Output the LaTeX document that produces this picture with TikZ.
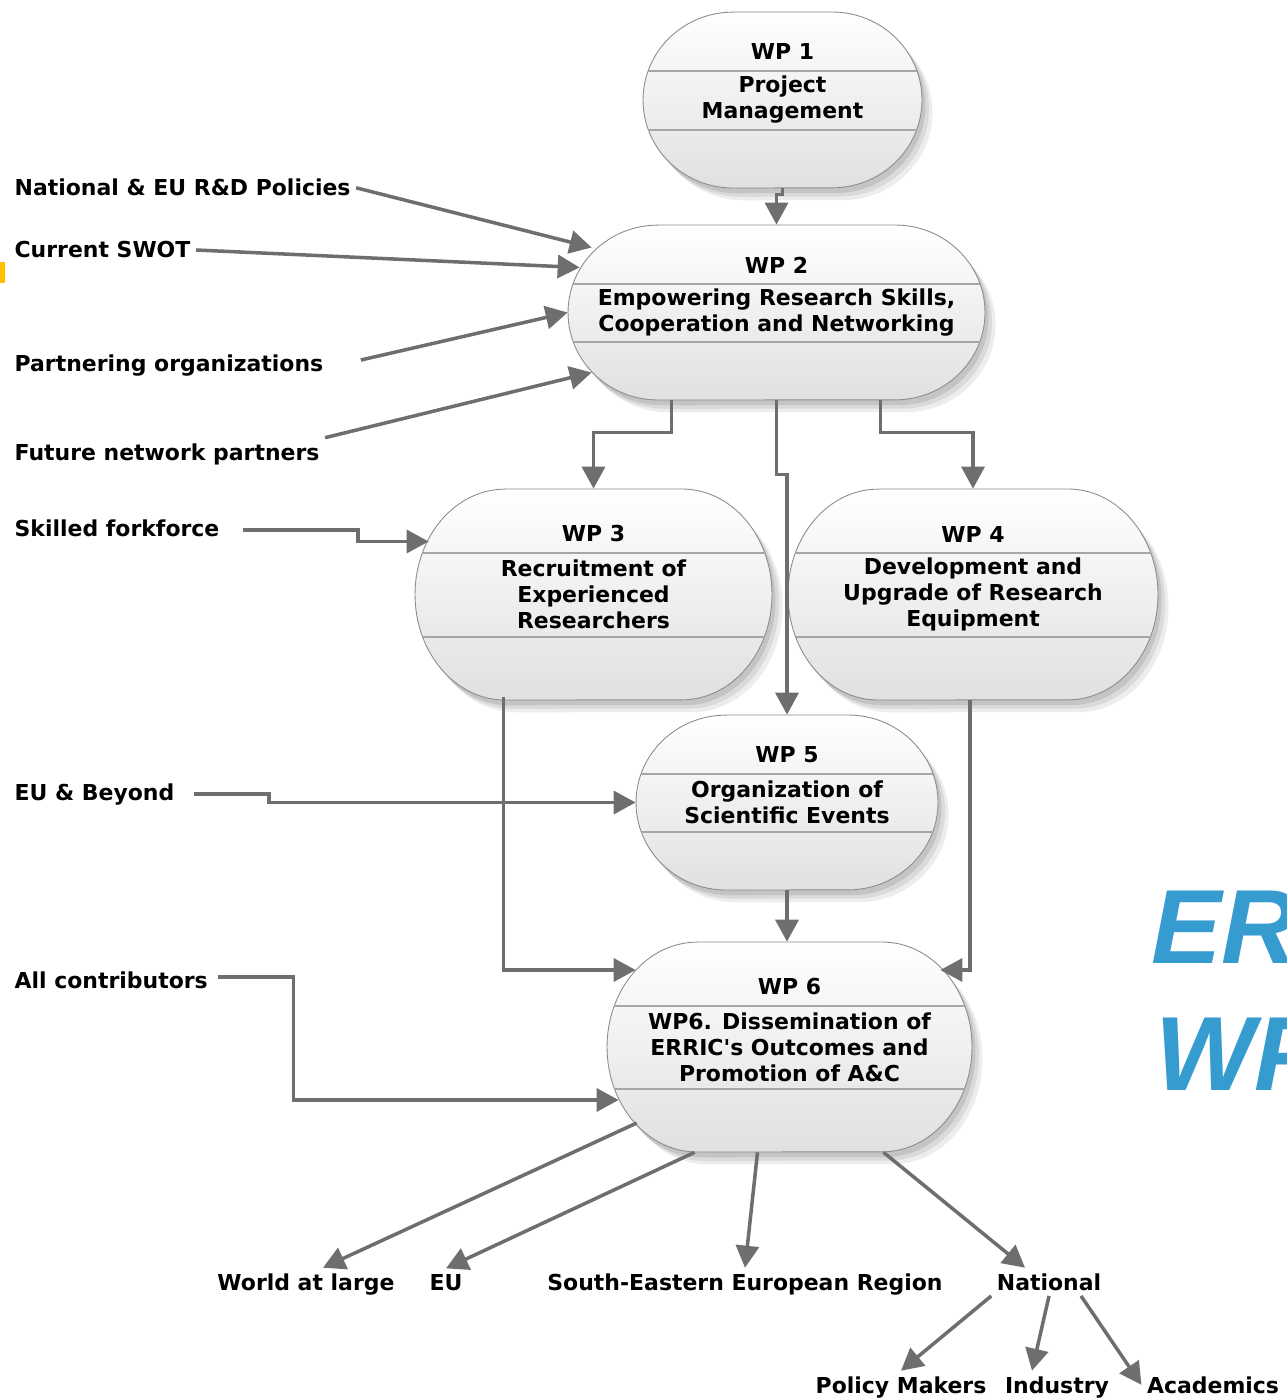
\documentclass[tikz,border=0pt]{standalone}
\usepackage{fontspec}
\setmainfont{DejaVu Sans}
\newfontfamily\errfont{Liberation Sans}
\usetikzlibrary{arrows.meta,calc}

\definecolor{linegray}{RGB}{110,110,110}
\definecolor{errblue}{RGB}{54,155,207}
\definecolor{markyellow}{RGB}{255,192,0}

\newcommand{\wpfont}{\fontsize{12.5}{14.8}\selectfont\bfseries}

% work package block: name, cx, cy, width, height, divider offset, title, text
\newcommand{\wpblock}[8]{%
  \pgfmathsetmacro{\wphx}{#4/2-90+90*sqrt(1-(#6/(#5/2))^2)}%
  \path[wpshape] ({#2-#4/2+90},{#3-#5/2}) -- ({#2+#4/2-90},{#3-#5/2})
    arc[start angle=90, end angle=-90, x radius=1.8cm, y radius=#5*0.01cm]
    -- ({#2-#4/2+90},{#3+#5/2})
    arc[start angle=270, end angle=90, x radius=1.8cm, y radius=#5*0.01cm] -- cycle;
  \node[wpbody, minimum width=#4*0.02cm, minimum height=#5*0.02cm] (#1) at (#2,#3) {#8};
  \node[wptitle] at ($(#1.center)+(0,-#6-19)$) {#7};
  \draw[wpdiv] ($(#1.center)+(-\wphx,-#6)$) -- ($(#1.center)+(\wphx,-#6)$);
  \draw[wpdiv] ($(#1.center)+(-\wphx,#6+1)$) -- ($(#1.center)+(\wphx,#6+1)$);
}

\begin{document}
\begin{tikzpicture}[x=0.02cm, y=-0.02cm,
    wpshape/.style={draw=black!45, line width=0.5pt, top color=white, bottom color=black!12,
      preaction={fill=black, opacity=0.07, transform canvas={xshift=6pt, yshift=-7pt}},
      preaction={fill=black, opacity=0.08, transform canvas={xshift=4pt, yshift=-5pt}},
      preaction={fill=black, opacity=0.10, transform canvas={xshift=2pt, yshift=-3pt}}},
    wpbody/.style={align=center, font=\wpfont, inner sep=0pt},
    wptitle/.style={font=\wpfont, inner sep=0pt},
    wpdiv/.style={draw=black!35, line width=1.2pt},
    lbl/.style={font=\wpfont, inner sep=3pt},
    conn/.style={draw=linegray, line width=2pt, -{Triangle[length=0.44cm, width=0.46cm]}},
    errtxt/.style={font=\errfont\fontsize{60}{60}\selectfont\bfseries\itshape, text=errblue, inner sep=0pt}]
  \useasboundingbox (0,0) rectangle (1286,1398);
  \clip (0,0) rectangle (1286,1398);

  \fill[markyellow] (0,262) rectangle (5,283);

  \wpblock{wp1}{782.5}{100}{279}{176}{29}{WP 1}{Project\\Management}
  \wpblock{wp2}{776.5}{312.5}{417}{175}{28.5}{WP 2}{Empowering Research Skills,\\Cooperation and Networking}
  \wpblock{wp3}{593.5}{594.5}{357}{211}{41.5}{WP 3}{Recruitment of\\Experienced\\Researchers}
  \wpblock{wp4}{973}{594.5}{370}{211}{41.5}{WP 4}{Development and\\Upgrade of Research\\Equipment}
  \wpblock{wp5}{787}{802.5}{302}{175}{28.5}{WP 5}{Organization of\\Scientific Events}
  \wpblock{wp6}{789.5}{1047}{365}{210}{41}{WP 6}{WP6. Dissemination of\\ERRIC\textquotesingle s Outcomes and\\Promotion of A\&C}

  \node[lbl, anchor=base west] (natpol) at (9,196) {National \& EU R\&D Policies};
  \node[lbl, anchor=base west] (swot) at (9,258) {Current SWOT};
  \node[lbl, anchor=base west] (partner) at (9,372) {Partnering organizations};
  \node[lbl, anchor=base west] (future) at (9,460) {Future network partners};
  \node[lbl, anchor=base west] (skilled) at (9,536) {Skilled forkforce};
  \node[lbl, anchor=base west] (eubeyond) at (9,800) {EU \& Beyond};
  \node[lbl, anchor=base west] (allcon) at (9,988) {All contributors};

  \node[lbl, anchor=base] (world) at (306,1290) {World at large};
  \node[lbl, anchor=base] (eu) at (446,1290) {EU};
  \node[lbl, anchor=base] (see) at (745,1290) {South-Eastern European Region};
  \node[lbl, anchor=base] (national) at (1049,1290) {National};
  \node[lbl, anchor=base] (policy) at (901,1393) {Policy Makers};
  \node[lbl, anchor=base] (industry) at (1057,1393) {Industry};
  \node[lbl, anchor=base] (academics) at (1213,1393) {Academics};

  \node[errtxt, anchor=base west] (errname) at (1151,963) {ER};
  \node[errtxt, anchor=base west] (errwp) at (1155,1090) {WP};

  % flow between work packages
  \draw[conn] (wp1.south) -- ++(0,6) -| (wp2.north);
  \draw[conn] ($(wp2.south)+(-105,0)$) -- ++(0,32) -| (wp3.north);
  \draw[conn] (wp2.south) -- ++(0,74) -| (wp5.north);
  \draw[conn] ($(wp2.south)+(104,0)$) -- ++(0,32) -| (wp4.north);
  \draw[conn] ($(wp3.south)+(-90,-3)$) |- ($(wp6.west)+(29,-77)$);
  \draw[conn] ($(wp4.south)+(-3,0)$) |- ($(wp6.east)+(-32,-77)$);
  \draw[conn] (wp5.south) -- (wp5.south |- wp6.north);

  % inputs
  \draw[conn] (natpol.east) -- ($(wp2.west)+(24,-65)$);
  \draw[conn] (swot.east) -- ($(wp2.west)+(12,-45)$);
  \draw[conn] ($(partner.east)+(32,-6)$) -- (wp2.west);
  \draw[conn] (future.north east) -- ($(wp2.west)+(24,60)$);
  \draw[conn] ($(skilled.east)+(18,2)$) -- ++(115,0) |- ($(wp3.west)+(14,-53)$);
  \draw[conn] ($(eubeyond.east)+(14,0)$) -- ++(75,0) |- (wp5.west);
  \draw[conn] ($(allcon.east)+(5,-3)$) -- ++(75,0) |- ($(wp6.west)+(12,53)$);

  % outputs
  \draw[conn] ($(wp6.west)+(30,76)$) -- ($(world.north)+(17,0)$);
  \draw[conn] ($(wp6.south)+(-95,0)$) -- (eu.north);
  \draw[conn] ($(wp6.south)+(-32,0)$) -- (see.north);
  \draw[conn] ($(wp6.south)+(94,0)$) -- ($(national.north)+(-24,0)$);
  \draw[conn] (national.south west) -- (policy.north);
  \draw[conn] (national.south) -- ($(industry.north)+(-25,0)$);
  \draw[conn] ($(national.south)+(32,0)$) -- (academics.west);
\end{tikzpicture}
\end{document}
